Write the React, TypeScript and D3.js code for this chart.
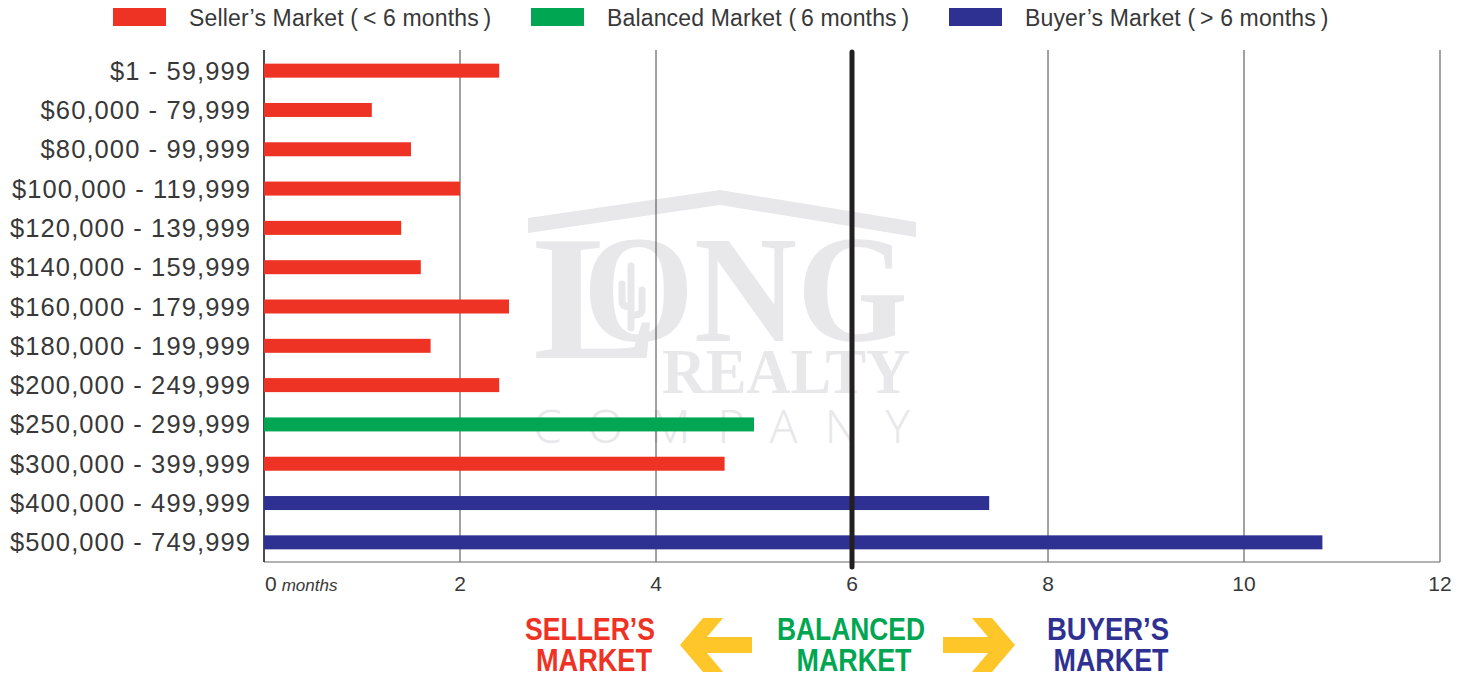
import React from "react";
import * as d3 from "d3";

const categories = [
  "$1 - 59,999",
  "$60,000 - 79,999",
  "$80,000 - 99,999",
  "$100,000 - 119,999",
  "$120,000 - 139,999",
  "$140,000 - 159,999",
  "$160,000 - 179,999",
  "$180,000 - 199,999",
  "$200,000 - 249,999",
  "$250,000 - 299,999",
  "$300,000 - 399,999",
  "$400,000 - 499,999",
  "$500,000 - 749,999",
];
const monthsSupply = [2.4, 1.1, 1.5, 2.0, 1.4, 1.6, 2.5, 1.7, 2.4, 5.0, 4.7, 7.4, 10.8];
const marketType = [
  "seller", "seller", "seller", "seller", "seller", "seller", "seller",
  "seller", "seller", "balanced", "seller", "buyer", "buyer",
];
const xTicks = [0, 2, 4, 6, 8, 10, 12];
const legendKeys = ["seller", "balanced", "buyer"];
const legendLabels = [
  "Seller\u2019s Market (\u2009< 6 months\u2009)",
  "Balanced Market (\u20096 months\u2009)",
  "Buyer\u2019s Market (\u2009> 6 months\u2009)",
];
const bottomLabels = [
  ["SELLER\u2019S", "MARKET"],
  ["BALANCED", "MARKET"],
  ["BUYER\u2019S", "MARKET"],
];

const COLORS: Record<string, string> = {
  seller: "#EE3224",
  balanced: "#00A651",
  buyer: "#2E3192",
};
const YELLOW = "#FFC629";
const WM = "#E8E8EA";
const TEXT = "#383838";
const SANS = "'Liberation Sans', Arial, Helvetica, sans-serif";
const SERIF = "'Liberation Serif', 'DejaVu Serif', serif";

export default function App() {
  const W = 1468;
  const H = 677;
  const x = d3.scaleLinear().domain([0, 12]).range([264, 1440]);
  const y = d3.scaleBand<string>().domain(categories).range([51, 562]).padding(0);
  const barH = 14;
  const top = 50;
  const bottom = 562;
  const cx = x(6);

  const arrow = (tipX: number, dir: number) => {
    const cy = 645;
    const p = (dx: number, yy: number) => `${tipX - dir * dx},${yy}`;
    return [
      p(0, cy),
      p(23, cy - 27),
      p(43, cy - 27),
      p(27, cy - 8),
      p(72, cy - 8),
      p(72, cy + 8),
      p(27, cy + 8),
      p(43, cy + 27),
      p(23, cy + 27),
    ].join(" ");
  };

  const bottomCenters = [
    [cx - 262, cx - 258],
    [cx - 1, cx + 2],
    [cx + 256, cx + 259],
  ];
  const bottomWidths = [
    [130, 116],
    [148, 115],
    [122, 115],
  ];

  return (
    <svg width={W} height={H} style={{ display: "block", position: "absolute", left: 0, top: 0 }}>
      <rect x={0} y={0} width={W} height={H} fill="#fff" />

      {/* Watermark */}
      <g fill={WM}>
        <polygon points="528,218 720,190 916,222 916,237 720,205 528,233" />
        <text fontFamily={SERIF} fontWeight="bold">
          <tspan x={533} y={358} fontSize={178} textLength={125} lengthAdjust="spacingAndGlyphs">L</tspan>
          <tspan x={583} y={341} fontSize={152} textLength={325} lengthAdjust="spacingAndGlyphs">ONG</tspan>
          <tspan x={662} y={393} fontSize={64} textLength={248} lengthAdjust="spacingAndGlyphs">REALTY</tspan>
          <tspan x={533} y={443} fontFamily="'Noto Sans', sans-serif" fontWeight={300} fontSize={46} textLength={377} lengthAdjust="spacing">COMPANY</tspan>
        </text>
        <g stroke={WM} strokeLinecap="round" fill="none" strokeWidth={7}>
          <line x1={631} y1={266} x2={631} y2={328} />
          <path d="M622 284 L622 300 Q622 307 629 307" />
          <path d="M642 290 L642 309 Q642 315 634 315" />
        </g>
      </g>

      {/* Gridlines */}
      {xTicks.filter((t) => t !== 0 && t !== 6 && t !== 12).map((t) => (
        <line key={t} x1={x(t)} x2={x(t)} y1={top} y2={bottom} stroke="#444" strokeWidth={1} />
      ))}
      <line x1={x(12)} x2={x(12)} y1={top} y2={bottom} stroke="#666" strokeWidth={1.2} />
      <line x1={x(0)} x2={x(12)} y1={bottom} y2={bottom} stroke="#666" strokeWidth={1.2} />
      <line x1={x(0)} x2={x(0)} y1={top} y2={bottom} stroke="#111" strokeWidth={1.5} />

      {/* Bars */}
      {categories.map((c, i) => (
        <rect
          key={c}
          x={x(0)}
          y={(y(c) as number) + y.bandwidth() / 2 - barH / 2}
          width={x(monthsSupply[i]) - x(0)}
          height={barH}
          fill={COLORS[marketType[i]]}
        />
      ))}

      {/* 6-month line */}
      <line x1={cx} x2={cx} y1={top + 2} y2={bottom + 5} stroke="#231F20" strokeWidth={5} strokeLinecap="round" />

      {/* Y labels */}
      {categories.map((c) => (
        <text
          key={c}
          x={251}
          y={(y(c) as number) + y.bandwidth() / 2 + 9}
          textAnchor="end"
          fontFamily={SANS}
          fontSize={25.5}
          letterSpacing={1.1}
          fill={TEXT}
        >
          {c}
        </text>
      ))}

      {/* X tick labels */}
      {xTicks.map((t) =>
        t === 0 ? (
          <text key={t} x={x(0) + 1} y={591} fontFamily={SANS} fontSize={21} fill={TEXT}>
            0<tspan fontSize={17} fontStyle="italic" dx={5}>months</tspan>
          </text>
        ) : (
          <text key={t} x={x(t)} y={591} textAnchor="middle" fontFamily={SANS} fontSize={21} fill={TEXT}>
            {t}
          </text>
        )
      )}

      {/* Legend */}
      {legendKeys.map((k, i) => (
        <g key={k} transform={`translate(${113 + i * 418},0)`}>
          <rect x={0} y={8} width={53} height={18} fill={COLORS[k]} />
          <text x={76} y={26} fontFamily={SANS} fontSize={23} letterSpacing={0.15} fill={TEXT}>
            {legendLabels[i]}
          </text>
        </g>
      ))}

      {/* Bottom market labels */}
      {bottomLabels.map((lines, i) => (
        <g key={i}>
          {lines.map((l, j) => (
            <text
              key={j}
              x={bottomCenters[i][j]}
              y={640 + j * 31}
              textAnchor="middle"
              fontFamily={SANS}
              fontWeight="bold"
              fontSize={31}
              textLength={bottomWidths[i][j]}
              lengthAdjust="spacingAndGlyphs"
              fill={COLORS[legendKeys[i]]}
            >
              {l}
            </text>
          ))}
        </g>
      ))}
      <polygon points={arrow(cx - 172, -1)} fill={YELLOW} />
      <polygon points={arrow(cx + 163, 1)} fill={YELLOW} />
    </svg>
  );
}
